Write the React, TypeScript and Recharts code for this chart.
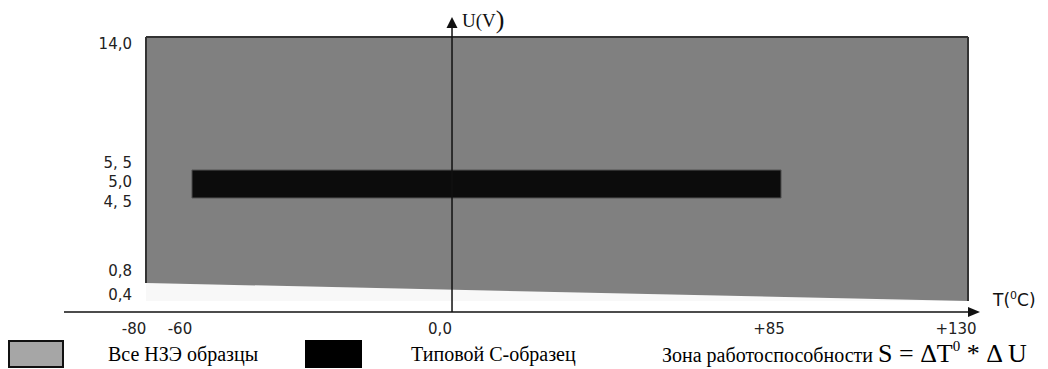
import { Area, ComposedChart, ReferenceArea, ReferenceLine, XAxis, YAxis } from 'recharts'

// working zone of all samples: between the lower voltage limit and 14 V
const zoneTemps = [-80, 130]
const zoneLow = [0.8, 0.4]
const zoneHigh = [14, 14]
const floorVolt = 0.4

// typical C-sample: -60..+85 °C, 5 V ± 10 %
const typicalTemps = [-60, 85]
const typicalVolts = [4.5, 5.5]

const tempTicks = [-80, -60, 0, 85, 130]
const tempLabels = ['-80', '-60', '0,0', '+85', '+130']
const voltTicks = [0.4, 0.8, 4.5, 5.0, 5.5, 14.0]
const voltLabels = ['0,4', '0,8', '4, 5', '5,0', '5, 5', '14,0']

// the drawing is a schematic, not to scale: share of the axis length at each tick
const tempStops = [0.0895, 0.1397, 0.4236, 0.7828, 0.9869]
const voltStops = [0, 0.0373, 0.0983, 0.3864, 0.4339, 0.4814, 0.9322]
// labels in the original are hand-placed a little off their ticks (px)
const voltLabelNudge = [-6, -12, 4, -2, -7, 7]

// minimal d3-like piecewise linear scale, so recharts can use it as axis scale
function schematicScale(stops: number[], shares: number[]): any {
  let dom = [stops[0], stops[stops.length - 1]]
  let rng = [0, 1]
  const scale: any = (v: number) => {
    let i = 0
    while (i < stops.length - 2 && v > stops[i + 1]) i++
    const t = (v - stops[i]) / (stops[i + 1] - stops[i])
    const f = shares[i] + t * (shares[i + 1] - shares[i])
    return rng[0] + f * (rng[1] - rng[0])
  }
  scale.domain = (d?: number[]) => {
    if (d === undefined) return dom
    dom = [...d]
    return scale
  }
  scale.range = (r?: number[]) => {
    if (r === undefined) return rng
    rng = [...r]
    return scale
  }
  scale.invert = (px: number) => {
    const f = (px - rng[0]) / (rng[1] - rng[0])
    let i = 0
    while (i < shares.length - 2 && f > shares[i + 1]) i++
    const t = (f - shares[i]) / (shares[i + 1] - shares[i])
    return stops[i] + t * (stops[i + 1] - stops[i])
  }
  scale.ticks = () => stops
  scale.copy = () => schematicScale(stops, shares).domain(dom).range(rng)
  return scale
}

const tempScale = schematicScale(tempTicks, tempStops)
const voltScale = schematicScale([0, ...voltTicks], voltStops)

const zoneData = zoneTemps.map((t, i) => ({
  t,
  zone: [zoneLow[i], zoneHigh[i]],
  floor: [floorVolt, zoneLow[i]],
}))

const INK = '#111'
const SANS = 'DejaVu Sans, Verdana, sans-serif'
const SERIF = 'Liberation Serif, Times New Roman, serif'

function VoltArrow(props: any) {
  const { x1, y1, y2 } = props
  const top = Math.min(y1, y2)
  const bottom = Math.max(y1, y2)
  return (
    <g>
      <line x1={x1} y1={top + 8} x2={x1} y2={bottom} stroke={INK} strokeWidth={1.5} />
      <polygon points={`${x1},${top} ${x1 - 5.5},${top + 11} ${x1 + 5.5},${top + 11}`} fill={INK} />
      <text x={x1 + 10} y={top + 10} fontFamily={SERIF} fontSize={19} fill={INK}>
        U(V<tspan fontSize={26} dy={1}>)</tspan>
      </text>
    </g>
  )
}

function TempArrow(props: any) {
  const { x1, x2, y1 } = props
  const left = Math.min(x1, x2)
  const right = Math.max(x1, x2)
  return (
    <g>
      <line x1={left} y1={y1} x2={right - 8} y2={y1} stroke={INK} strokeWidth={1.5} />
      <polygon points={`${right},${y1} ${right - 12},${y1 - 5} ${right - 12},${y1 + 5}`} fill={INK} />
      <text x={right + 13} y={y1 - 6} fontFamily={SANS} fontSize={17} fill={INK}>
        T(<tspan fontSize={11} dy={-7}>0</tspan>
        <tspan dy={7}>C)</tspan>
      </text>
    </g>
  )
}

function VoltTick(props: any) {
  const { y, payload } = props
  const i = voltTicks.indexOf(payload.value)
  return (
    <text x={132} y={y + voltLabelNudge[i]} dy={5} textAnchor="end" fontFamily={SANS} fontSize={15} fill="#222">
      {voltLabels[i]}
    </text>
  )
}

const legendText = {
  position: 'absolute' as const,
  top: 342,
  lineHeight: '24px',
  fontFamily: SERIF,
  fontSize: 20,
  color: '#000',
  whiteSpace: 'nowrap' as const,
}

export default function App() {
  return (
    <div style={{ position: 'absolute', left: 0, top: 0, width: 1048, height: 369, background: '#fff' }}>
      <ComposedChart width={1048} height={369} data={zoneData} margin={{ top: 17, right: 68, bottom: 37, left: 63 }}>
        <XAxis
          type="number"
          dataKey="t"
          scale={tempScale}
          domain={[zoneTemps[0], zoneTemps[1]]}
          ticks={tempTicks}
          tickFormatter={(v) => tempLabels[tempTicks.indexOf(v)]}
          axisLine={false}
          tickLine={false}
          height={20}
          tick={{ fontSize: 15, fill: '#222', fontFamily: SANS, dx: -12, dy: 3 }}
          interval={0}
        />
        <YAxis
          type="number"
          scale={voltScale}
          domain={[0, zoneHigh[0]]}
          ticks={voltTicks}
          axisLine={false}
          tickLine={false}
          width={1}
          tick={<VoltTick />}
          interval={0}
        />
        <Area type="linear" dataKey="floor" fill="#f8f8f8" fillOpacity={1} stroke="none" isAnimationActive={false} />
        <Area type="linear" dataKey="zone" fill="#808080" fillOpacity={1} stroke="none" isAnimationActive={false} />
        <ReferenceLine segment={[{ x: zoneTemps[0], y: zoneHigh[0] }, { x: zoneTemps[1], y: zoneHigh[1] }]} stroke="#333" strokeWidth={2} />
        <ReferenceLine segment={[{ x: zoneTemps[0], y: zoneLow[0] }, { x: zoneTemps[0], y: zoneHigh[0] }]} stroke="#333" strokeWidth={2} />
        <ReferenceLine segment={[{ x: zoneTemps[1], y: zoneLow[1] }, { x: zoneTemps[1], y: zoneHigh[1] }]} stroke="#333" strokeWidth={2} />
        <ReferenceArea
          x1={typicalTemps[0]}
          x2={typicalTemps[1]}
          y1={typicalVolts[0]}
          y2={typicalVolts[1]}
          fill="#0c0c0c"
          fillOpacity={1}
          stroke="#555"
          strokeWidth={1}
        />
        <ReferenceLine x={0} shape={<VoltArrow />} />
        <ReferenceLine y={0} shape={<TempArrow />} />
      </ComposedChart>

      <div style={{ position: 'absolute', left: 8, top: 340, width: 52, height: 24, background: '#a6a6a6', border: '2px solid #111' }} />
      <div style={{ ...legendText, left: 108 }}>Все НЗЭ образцы</div>
      <div style={{ position: 'absolute', left: 305, top: 340, width: 57, height: 28, background: '#000' }} />
      <div style={{ ...legendText, left: 411 }}>Типовой С-образец</div>
      <div style={{ ...legendText, left: 662 }}>
        Зона работоспособности{' '}
        <span style={{ fontSize: 26 }}>
          S = ΔT<span style={{ fontSize: 15, position: 'relative', top: -11 }}>0</span> * Δ U
        </span>
      </div>
    </div>
  )
}
